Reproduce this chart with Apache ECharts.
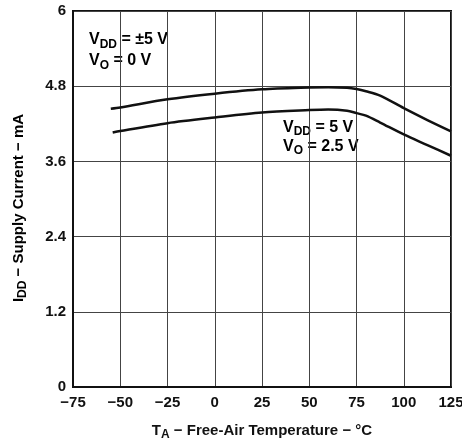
<!DOCTYPE html>
<html>
<head>
<meta charset="utf-8">
<style>html,body{margin:0;padding:0;background:#fff}#c{width:462px;height:443px}</style>
<script src="https://cdn.jsdelivr.net/npm/echarts@6/dist/echarts.min.js"></script>
</head>
<body>
<div id="c"></div>
<script>
// Data
const tempDual = [-55, -50, -25, 0, 25, 50, 60, 70, 75, 80, 87.5, 100, 112.5, 125];
const currentDual = [4.44, 4.46, 4.59, 4.68, 4.75, 4.78, 4.785, 4.775, 4.755, 4.72, 4.65, 4.45, 4.26, 4.08];
const tempSingle = [-54, -50, -25, 0, 25, 50, 60, 70, 75, 80, 87.5, 100, 112.5, 125];
const currentSingle = [4.06, 4.085, 4.21, 4.30, 4.38, 4.42, 4.43, 4.41, 4.37, 4.33, 4.22, 4.03, 3.86, 3.69];
const xTicks = [-75, -50, -25, 0, 25, 50, 75, 100, 125];
const yTicks = [0, 1.2, 2.4, 3.6, 4.8, 6];

const FONT = 'Liberation Sans, Arial, sans-serif';
const chart = echarts.init(document.getElementById('c'), null, {renderer: 'canvas'});
const mk = (fs, lh, pad) => ({fontSize: fs, fontWeight: 'bold', fontFamily: FONT, color: '#111', lineHeight: lh, padding: pad || 0});

chart.setOption({
  animation: false,
  grid: {left: 73, right: 11, top: 11, bottom: 56, containLabel: false, outerBoundsMode: 'none',
    show: true, borderColor: '#111', borderWidth: 2, backgroundColor: 'transparent'},
  xAxis: {
    type: 'value', min: -75, max: 125, interval: 25,
    axisLine: {show: true, onZero: false, lineStyle: {color: '#111', width: 2}},
    axisTick: {show: false},
    splitLine: {show: true, lineStyle: {color: '#444', width: 1}},
    axisLabel: {
      color: '#111', fontFamily: FONT, fontWeight: 'bold', fontSize: 15, margin: 8,
      formatter: v => xTicks.includes(v) ? (v < 0 ? '\u2212' + Math.abs(v) : String(v)) : ''
    },
    name: '{m|T}{s|A}{m| \u2212 Free-Air Temperature \u2212 °C}',
    nameLocation: 'middle', nameGap: 36,
    nameTextStyle: {rich: {m: mk(15, 16), s: mk(12, 11, [8, 0, 0, 0])}}
  },
  yAxis: {
    type: 'value', min: 0, max: 6, interval: 1.2,
    axisLine: {show: true, onZero: false, lineStyle: {color: '#111', width: 2}},
    axisTick: {show: false},
    splitLine: {show: true, lineStyle: {color: '#444', width: 1}},
    axisLabel: {
      color: '#111', fontFamily: FONT, fontWeight: 'bold', fontSize: 15, margin: 7,
      formatter: v => {
        const t = yTicks.find(k => Math.abs(k - v) < 1e-6);
        return t === undefined ? '' : String(t);
      }
    }
  },
  graphic: [
    {
      type: 'text', x: 19, y: 208, rotation: Math.PI / 2,
      style: {text: '{m|I}{s|DD}{m| \u2212 Supply Current \u2212 mA}', align: 'center', verticalAlign: 'middle',
        rich: {m: mk(15, 16), s: mk(12, 11, [8, 0, 0, 0])}}
    },
    {
      type: 'text', left: 89, top: 29,
      style: {
        text: '{m|V}{s|DD}{m| = ±5 V}\n{m|V}{s|O}{m| = 0 V}',
        rich: {m: mk(16, 21), s: mk(12, 13, [10, 0, 0, 0])}
      }
    },
    {
      type: 'text', left: 283, top: 118,
      style: {
        text: '{m|V}{s|DD}{m| = 5 V}\n{m|V}{s|O}{m| = 2.5 V}',
        rich: {m: mk(16, 19), s: mk(12, 12, [8, 0, 0, 0])}
      }
    }
  ],
  series: [
    {
      type: 'line', data: tempDual.map((t, i) => [t, currentDual[i]]),
      smooth: 0.3, showSymbol: false, lineStyle: {color: '#111', width: 2.5}
    },
    {
      type: 'line', data: tempSingle.map((t, i) => [t, currentSingle[i]]),
      smooth: 0.3, showSymbol: false, lineStyle: {color: '#111', width: 2.5}
    }
  ]
});
</script>
</body>
</html>
